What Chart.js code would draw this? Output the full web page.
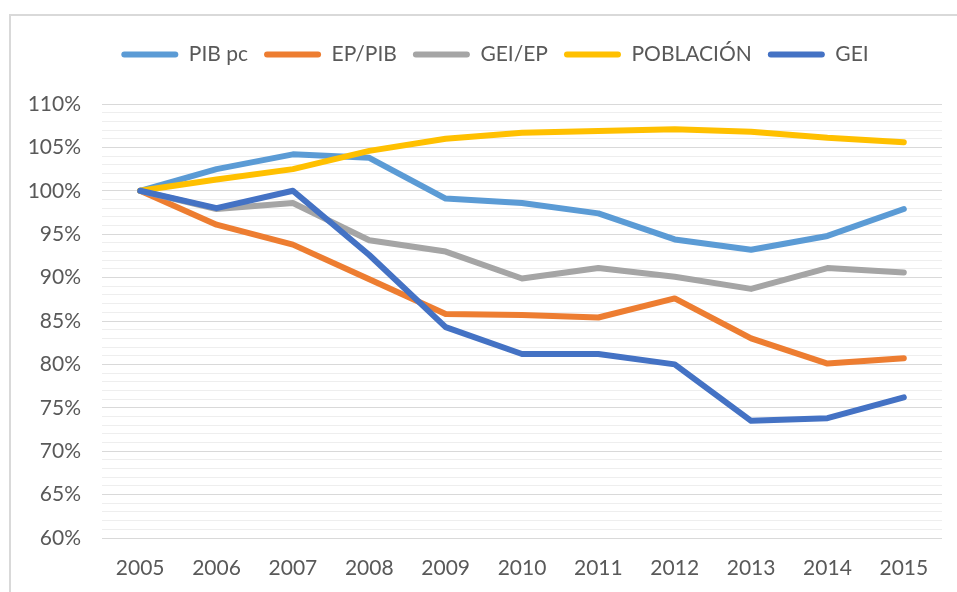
<!DOCTYPE html>
<html>
<head>
<meta charset="utf-8">
<script src="https://cdn.jsdelivr.net/npm/chart.js@4/dist/chart.umd.min.js"></script>
<style>
  html, body { margin: 0; padding: 0; background: #ffffff; }
  #wrap { position: absolute; left: 0; top: 0; width: 957px; height: 592px; }
</style>
</head>
<body>
<div id="wrap"><canvas id="c" width="957" height="592"></canvas></div>
<script>
const years = ['2005','2006','2007','2008','2009','2010','2011','2012','2013','2014','2015'];
const pibPc     = [100, 102.5, 104.2, 103.8, 99.1, 98.6, 97.4, 94.4, 93.2, 94.8, 97.9];
const epPib     = [100, 96.1, 93.8, 89.8, 85.8, 85.7, 85.4, 87.6, 83.0, 80.1, 80.7];
const geiEp     = [100, 97.9, 98.6, 94.3, 93.0, 89.9, 91.1, 90.1, 88.7, 91.1, 90.6];
const poblacion = [100, 101.3, 102.5, 104.6, 106.0, 106.7, 106.9, 107.1, 106.8, 106.1, 105.6];
const gei       = [100, 98.0, 100.0, 92.6, 84.3, 81.2, 81.2, 80.0, 73.5, 73.8, 76.2];
const seriesNames = ['PIB pc', 'EP/PIB', 'GEI/EP', 'POBLACIÓN', 'GEI'];
const yTickMin = 60, yTickMax = 110, yMajorStep = 5;

const colors = ['#5B9BD5', '#ED7D31', '#A5A5A5', '#FFC000', '#4472C4'];
const values = [pibPc, epPib, geiEp, poblacion, gei];
const FONT = "Lato, 'Open Sans', sans-serif";

const datasets = seriesNames.map((name, i) => ({
  label: name,
  data: values[i],
  borderColor: colors[i],
  backgroundColor: colors[i],
  borderWidth: 6,
  pointRadius: 0,
  pointHoverRadius: 0,
  tension: 0,
  borderCapStyle: 'round',
  borderJoinStyle: 'round',
  fill: false,
  order: seriesNames.length - i
}));

const framePlugin = {
  id: 'frame',
  beforeDraw(chart) {
    const ctx = chart.ctx;
    ctx.save();
    ctx.fillStyle = '#d9d9d9';
    ctx.fillRect(9, 14, 2, 592 - 14);
    ctx.fillRect(9, 14, 957 - 9, 2);
    ctx.restore();
  }
};

const legendGap = {
  id: 'legendGap',
  beforeLayout(chart) {
    const lg = chart.legend;
    if (lg && !lg._gapPatched) {
      const orig = lg.fit;
      lg.fit = function() { orig.call(this); this.height += 29; };
      lg._gapPatched = true;
    }
  },
  afterLayout(chart) {
    const lg = chart.legend;
    if (lg) { lg.left += 28; }
  }
};

new Chart(document.getElementById('c'), {
  type: 'line',
  data: { labels: years, datasets: datasets },
  plugins: [framePlugin, legendGap],
  options: {
    responsive: false,
    animation: false,
    events: [],
    layout: { padding: { top: 28, left: 20, right: 15, bottom: 0 } },
    plugins: {
      tooltip: { enabled: false },
      legend: {
        position: 'top',
        align: 'center',
        reverse: true,
        labels: {
          boxWidth: 57,
          boxHeight: 6,
          useBorderRadius: true,
          borderRadius: 3,
          padding: 16,
          color: '#595959',
          font: { family: FONT, size: 21 },
          generateLabels: (chart) => Chart.defaults.plugins.legend.labels.generateLabels(chart)
            .map(l => Object.assign({}, l, { fillStyle: l.strokeStyle, lineWidth: 0 }))
        }
      }
    },
    scales: {
      x: {
        offset: true,
        grid: { display: false, drawTicks: false },
        border: { display: false },
        ticks: { color: '#595959', font: { family: FONT, size: 21 }, padding: 18, maxRotation: 0 },
        afterFit: (s) => { s.height = 54; }
      },
      y: {
        min: yTickMin,
        max: yTickMax,
        border: { display: false },
        grid: {
          drawTicks: false,
          color: (c) => (c.tick && Math.round(c.tick.value) % yMajorStep === 0) ? '#d9d9d9' : '#eeeeee',
          lineWidth: 1
        },
        ticks: {
          stepSize: 1,
          autoSkip: false,
          padding: 21,
          color: '#595959',
          font: { family: FONT, size: 21 },
          callback: (v) => (Math.round(v) % yMajorStep === 0) ? Math.round(v) + '%' : ''
        },
        afterFit: (s) => { s.width = 82; }
      }
    }
  }
});
</script>
</body>
</html>
